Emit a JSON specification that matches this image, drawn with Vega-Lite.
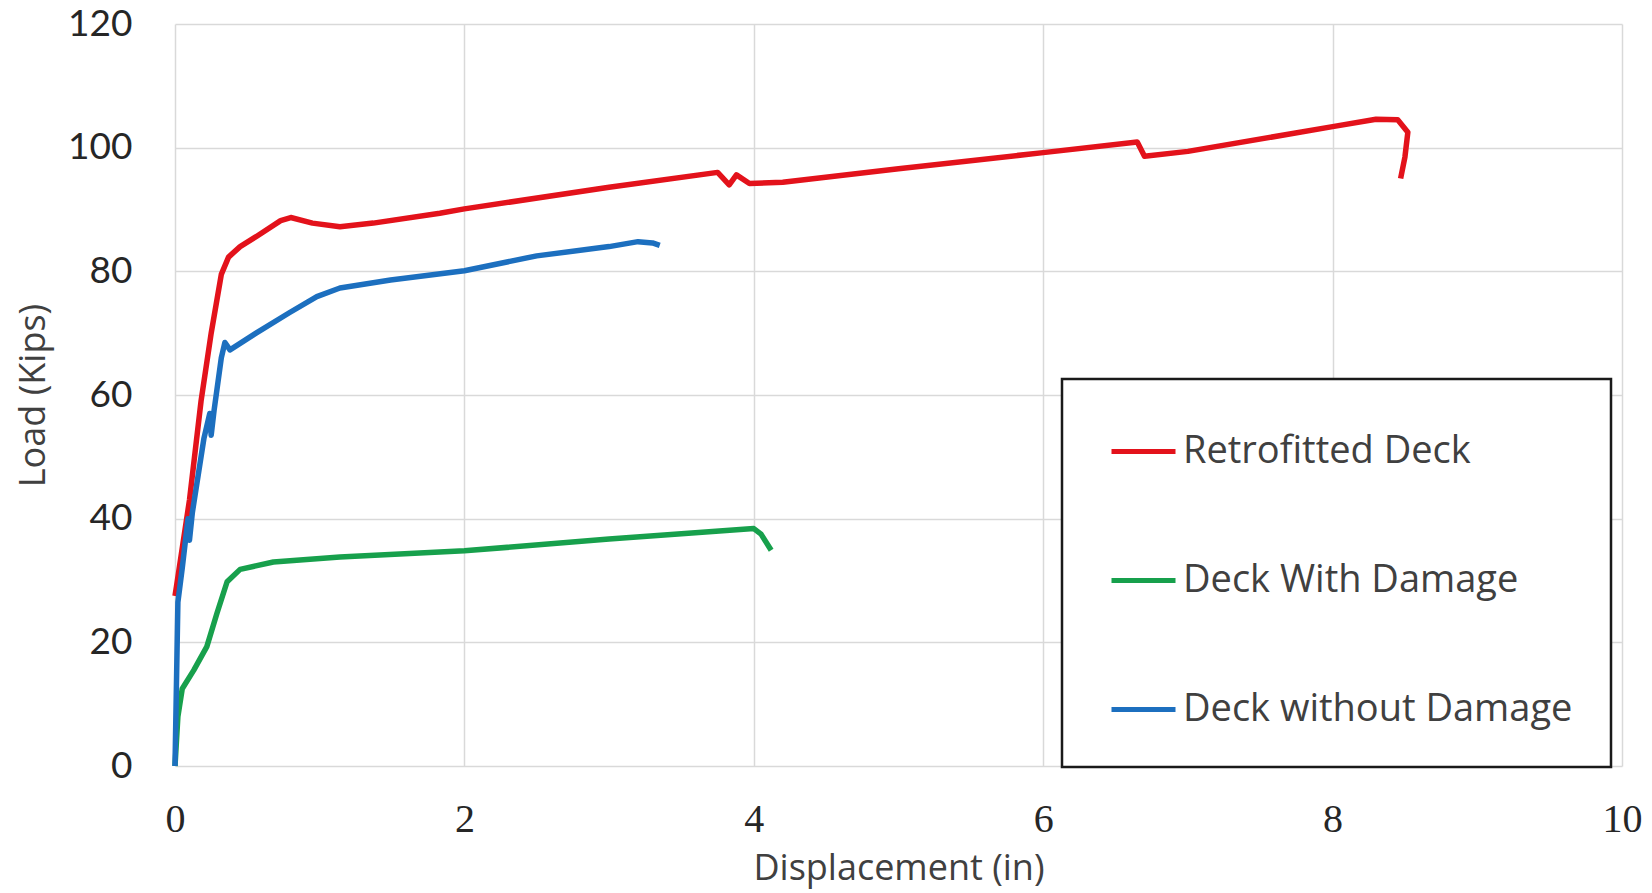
{
  "$schema": "https://vega.github.io/schema/vega-lite/v6.json",
  "width": 1447,
  "height": 742,
  "autosize": {"type": "none"},
  "padding": {"left": 175, "top": 24, "right": 30, "bottom": 127},
  "background": "white",
  "config": {"view": {"stroke": null}, "legend": {"strokeWidth": 2.5, "strokeColor": "#1a1a1a", "fillColor": "white"}},
  "data": {"values": [
    {"series": "Retrofitted Deck", "i": 0, "disp": 0, "load": 27.5},
    {"series": "Retrofitted Deck", "i": 1, "disp": 0.01, "load": 29},
    {"series": "Retrofitted Deck", "i": 2, "disp": 0.1, "load": 43},
    {"series": "Retrofitted Deck", "i": 3, "disp": 0.18, "load": 59},
    {"series": "Retrofitted Deck", "i": 4, "disp": 0.25, "load": 70},
    {"series": "Retrofitted Deck", "i": 5, "disp": 0.32, "load": 79.5},
    {"series": "Retrofitted Deck", "i": 6, "disp": 0.37, "load": 82.3},
    {"series": "Retrofitted Deck", "i": 7, "disp": 0.45, "load": 84},
    {"series": "Retrofitted Deck", "i": 8, "disp": 0.56, "load": 85.6},
    {"series": "Retrofitted Deck", "i": 9, "disp": 0.73, "load": 88.2},
    {"series": "Retrofitted Deck", "i": 10, "disp": 0.8, "load": 88.7},
    {"series": "Retrofitted Deck", "i": 11, "disp": 0.95, "load": 87.8},
    {"series": "Retrofitted Deck", "i": 12, "disp": 1.14, "load": 87.2},
    {"series": "Retrofitted Deck", "i": 13, "disp": 1.37, "load": 87.8},
    {"series": "Retrofitted Deck", "i": 14, "disp": 1.83, "load": 89.4},
    {"series": "Retrofitted Deck", "i": 15, "disp": 2.0, "load": 90.1},
    {"series": "Retrofitted Deck", "i": 16, "disp": 3.0, "load": 93.6},
    {"series": "Retrofitted Deck", "i": 17, "disp": 3.75, "load": 96.0},
    {"series": "Retrofitted Deck", "i": 18, "disp": 3.83, "load": 94.0},
    {"series": "Retrofitted Deck", "i": 19, "disp": 3.88, "load": 95.6},
    {"series": "Retrofitted Deck", "i": 20, "disp": 3.97, "load": 94.2},
    {"series": "Retrofitted Deck", "i": 21, "disp": 4.2, "load": 94.4},
    {"series": "Retrofitted Deck", "i": 22, "disp": 5.0, "load": 96.6},
    {"series": "Retrofitted Deck", "i": 23, "disp": 6.0, "load": 99.2},
    {"series": "Retrofitted Deck", "i": 24, "disp": 6.65, "load": 100.9},
    {"series": "Retrofitted Deck", "i": 25, "disp": 6.7, "load": 98.6},
    {"series": "Retrofitted Deck", "i": 26, "disp": 7.0, "load": 99.4},
    {"series": "Retrofitted Deck", "i": 27, "disp": 8.0, "load": 103.4},
    {"series": "Retrofitted Deck", "i": 28, "disp": 8.3, "load": 104.6},
    {"series": "Retrofitted Deck", "i": 29, "disp": 8.45, "load": 104.5},
    {"series": "Retrofitted Deck", "i": 30, "disp": 8.52, "load": 102.5},
    {"series": "Retrofitted Deck", "i": 31, "disp": 8.5, "load": 98.5},
    {"series": "Retrofitted Deck", "i": 32, "disp": 8.47, "load": 95},
    {"series": "Deck With Damage", "i": 0, "disp": 0, "load": 0},
    {"series": "Deck With Damage", "i": 1, "disp": 0.02, "load": 8},
    {"series": "Deck With Damage", "i": 2, "disp": 0.05, "load": 12.5},
    {"series": "Deck With Damage", "i": 3, "disp": 0.13, "load": 15.5},
    {"series": "Deck With Damage", "i": 4, "disp": 0.22, "load": 19.3},
    {"series": "Deck With Damage", "i": 5, "disp": 0.29, "load": 24.7},
    {"series": "Deck With Damage", "i": 6, "disp": 0.36, "load": 29.8},
    {"series": "Deck With Damage", "i": 7, "disp": 0.45, "load": 31.8},
    {"series": "Deck With Damage", "i": 8, "disp": 0.68, "load": 33.0},
    {"series": "Deck With Damage", "i": 9, "disp": 1.14, "load": 33.8},
    {"series": "Deck With Damage", "i": 10, "disp": 2.0, "load": 34.8},
    {"series": "Deck With Damage", "i": 11, "disp": 3.0, "load": 36.7},
    {"series": "Deck With Damage", "i": 12, "disp": 4.0, "load": 38.4},
    {"series": "Deck With Damage", "i": 13, "disp": 4.05, "load": 37.5},
    {"series": "Deck With Damage", "i": 14, "disp": 4.12, "load": 34.9},
    {"series": "Deck without Damage", "i": 0, "disp": 0, "load": 0},
    {"series": "Deck without Damage", "i": 1, "disp": 0.02, "load": 26.5},
    {"series": "Deck without Damage", "i": 2, "disp": 0.05, "load": 32},
    {"series": "Deck without Damage", "i": 3, "disp": 0.09, "load": 40},
    {"series": "Deck without Damage", "i": 4, "disp": 0.1, "load": 36.5},
    {"series": "Deck without Damage", "i": 5, "disp": 0.12, "load": 41},
    {"series": "Deck without Damage", "i": 6, "disp": 0.2, "load": 53},
    {"series": "Deck without Damage", "i": 7, "disp": 0.24, "load": 57},
    {"series": "Deck without Damage", "i": 8, "disp": 0.25, "load": 53.5},
    {"series": "Deck without Damage", "i": 9, "disp": 0.27, "load": 57.5},
    {"series": "Deck without Damage", "i": 10, "disp": 0.32, "load": 66},
    {"series": "Deck without Damage", "i": 11, "disp": 0.345, "load": 68.5},
    {"series": "Deck without Damage", "i": 12, "disp": 0.38, "load": 67.3},
    {"series": "Deck without Damage", "i": 13, "disp": 0.56, "load": 70},
    {"series": "Deck without Damage", "i": 14, "disp": 0.79, "load": 73.3},
    {"series": "Deck without Damage", "i": 15, "disp": 0.98, "load": 75.9},
    {"series": "Deck without Damage", "i": 16, "disp": 1.14, "load": 77.3},
    {"series": "Deck without Damage", "i": 17, "disp": 1.49, "load": 78.6},
    {"series": "Deck without Damage", "i": 18, "disp": 2.0, "load": 80.1},
    {"series": "Deck without Damage", "i": 19, "disp": 2.5, "load": 82.5},
    {"series": "Deck without Damage", "i": 20, "disp": 3.0, "load": 84.0},
    {"series": "Deck without Damage", "i": 21, "disp": 3.2, "load": 84.8},
    {"series": "Deck without Damage", "i": 22, "disp": 3.3, "load": 84.6},
    {"series": "Deck without Damage", "i": 23, "disp": 3.35, "load": 84.2}
  ]},
  "mark": {"type": "line", "strokeWidth": 5.5, "strokeJoin": "round", "strokeCap": "butt"},
  "encoding": {
    "x": {
      "field": "disp", "type": "quantitative",
      "scale": {"domain": [0, 10], "nice": false, "zero": false},
      "axis": {
        "values": [0, 2, 4, 6, 8, 10],
        "title": "Displacement (in)",
        "titleFont": "Open Sans", "titleFontSize": 36, "titleFontWeight": "normal", "titleColor": "#404040",
        "titlePadding": 12,
        "labelFont": "Liberation Serif", "labelFontSize": 40, "labelColor": "#262626",
        "labelPadding": 33, "ticks": false, "domain": false,
        "grid": true, "gridColor": "#d9d9d9", "gridWidth": 1.5, "labelFlush": false
      }
    },
    "y": {
      "field": "load", "type": "quantitative",
      "scale": {"domain": [0, 120], "nice": false},
      "axis": {
        "values": [0, 20, 40, 60, 80, 100, 120],
        "title": "Load (Kips)",
        "titleFont": "Open Sans", "titleFontSize": 36, "titleFontWeight": "normal", "titleColor": "#404040",
        "titlePadding": 15,
        "labelFont": "Lato", "labelFontSize": 37, "labelColor": "#262626",
        "labelPadding": 43, "ticks": false, "domain": false,
        "grid": true, "gridColor": "#d9d9d9", "gridWidth": 1.5, "labelFlush": false
      }
    },
    "color": {
      "field": "series", "type": "nominal",
      "scale": {
        "domain": ["Retrofitted Deck", "Deck With Damage", "Deck without Damage"],
        "range": ["#e3121b", "#17a04c", "#1c6fbf"]
      },
      "legend": {
        "title": null,
        "orient": "none",
        "legendX": 887,
        "legendY": 355,
        "padding": 38,
        "symbolType": "stroke",
        "symbolSize": 4096,
        "symbolStrokeWidth": 5,
        "symbolOffset": 9,
        "labelOffset": 5,
        "labelFont": "Open Sans",
        "labelFontSize": 38,
        "labelColor": "#404040",
        "labelLimit": 600,
        "rowPadding": 75
      }
    },
    "order": {"field": "i", "type": "quantitative"}
  }
}
